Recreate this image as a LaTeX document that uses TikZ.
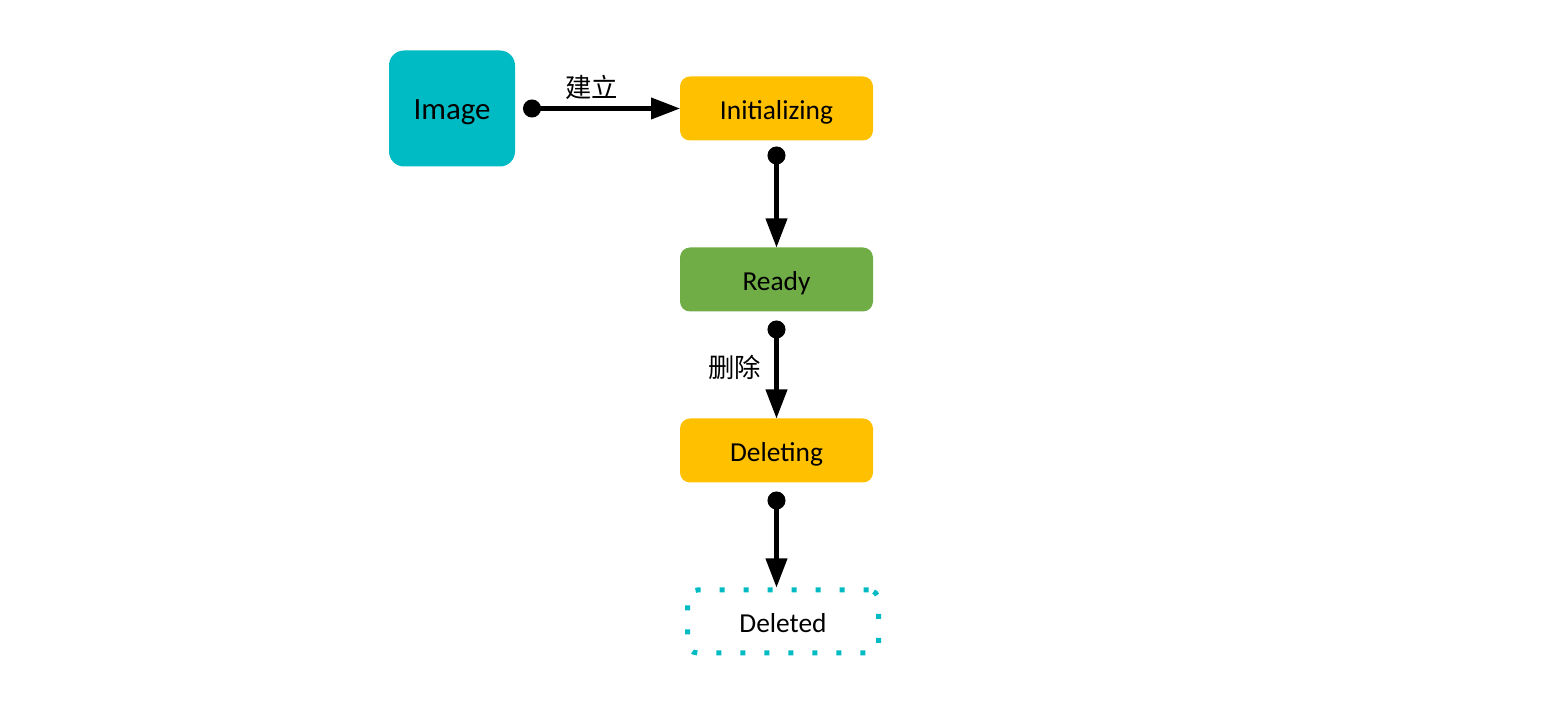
\documentclass[tikz,border=0pt]{standalone}
\usepackage{fontspec}
\setmainfont{Carlito}
\newfontfamily\cjk{Noto Sans CJK SC}
\usetikzlibrary{positioning,arrows.meta}
\definecolor{imgteal}{RGB}{0,187,196}
\definecolor{stateyellow}{RGB}{255,192,0}
\definecolor{stategreen}{RGB}{112,173,71}

\begin{document}
\begin{tikzpicture}[
    source/.style={rectangle, fill=imgteal, rounded corners=1.5mm, minimum width=1.26cm,
        minimum height=1.16cm, inner sep=0pt, outer sep=0pt, text height=6.2pt, text depth=0pt,
        font=\fontsize{8.8}{10}\selectfont},
    busy/.style={rectangle, fill=stateyellow, rounded corners=1mm, minimum width=1.93cm,
        minimum height=0.64cm, inner sep=0pt, outer sep=0pt, text height=6pt, text depth=0pt,
        font=\fontsize{7.8}{9}\selectfont},
    stable/.style={busy, fill=stategreen},
    gone/.style={rectangle, draw=imgteal, line width=0.05cm, dash pattern=on 0.05cm off 0.19cm,
        rounded corners=1mm, minimum width=1.91cm, minimum height=0.63cm, inner sep=0pt,
        text height=6pt, text depth=0pt, font=\fontsize{7.8}{9}\selectfont},
    trans/.style={line width=1.15pt, {Circle[length=0.18cm]}-{Triangle[length=0.29cm,width=0.21cm]}},
    tlabel/.style={font=\cjk\fontsize{7.5}{9}\selectfont},
    node distance=1.07cm
]
\useasboundingbox (0,0) rectangle (15.49,-7.25);

\node (Initializing) [busy] at (7.765,-1.085) {Initializing};
\node (Image) [source, left=1.65cm of Initializing] {Image};
\node (Ready) [stable, below=of Initializing] {Ready};
\node (Deleting) [busy, below=of Ready] {Deleting};
\node (Deleted) [gone, below=1.05cm of Deleting, xshift=0.065cm] {Deleted};

\draw [trans, shorten <=0.08cm] (Image.east) --
    node[tlabel, xshift=-0.06cm, yshift=0.215cm] {建立} (Initializing.west);
\draw [trans, shorten <=0.06cm] (Initializing) -- (Ready);
\draw [trans, shorten <=0.09cm] (Ready) --
    node[tlabel, xshift=-0.42cm, yshift=-0.025cm] {删除} (Deleting);
\draw [trans, shorten <=0.09cm] (Deleting.south) -- (Deleting.south |- Deleted.north);

\end{tikzpicture}
\end{document}
